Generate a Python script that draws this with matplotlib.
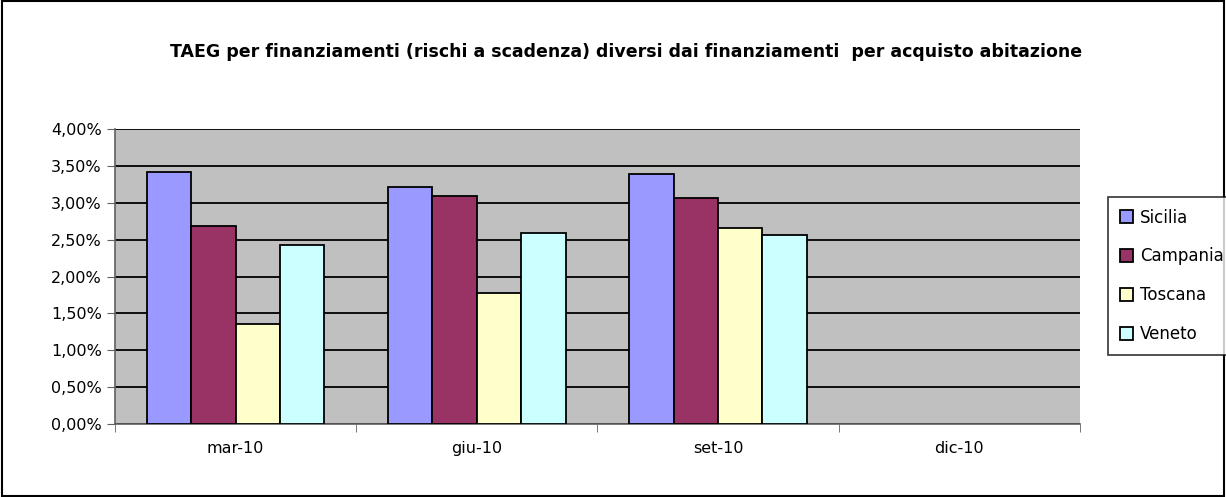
import numpy as np
import matplotlib.pyplot as plt
from matplotlib.patches import Rectangle
from matplotlib.ticker import FuncFormatter

categories = ["mar-10", "giu-10", "set-10", "dic-10"]
regions = ["Sicilia", "Campania", "Toscana", "Veneto"]
sicilia = [3.42, 3.22, 3.39, np.nan]
campania = [2.69, 3.10, 3.07, np.nan]
toscana = [1.35, 1.78, 2.66, np.nan]
veneto = [2.43, 2.59, 2.56, np.nan]
colors = ["#9999FF", "#993366", "#FFFFCC", "#CCFFFF"]

series = [sicilia, campania, toscana, veneto]

fig = plt.figure(figsize=(12.26, 4.97), dpi=100)
ax = fig.add_axes([0.0938, 0.147, 0.787, 0.593])
ax.set_facecolor("#C0C0C0")

x = np.arange(len(categories))
w = 0.184
for i, (vals, name, c) in enumerate(zip(series, regions, colors)):
    ax.bar(x + (i - 1.5) * w, vals, width=w, color=c, edgecolor="black",
           linewidth=1.3, label=name, zorder=3)

ax.set_xlim(-0.5, len(categories) - 0.5)
ax.set_ylim(0, 4.0)
ax.set_yticks(np.arange(0, 4.01, 0.5))
ax.yaxis.set_major_formatter(FuncFormatter(lambda v, p: f"{v:.2f}%".replace(".", ",")))
ax.yaxis.grid(True, color="black", linewidth=1.3, zorder=1)
ax.set_xticks(x)
ax.set_xticklabels(categories)
ax.set_xticks(np.arange(-0.5, len(categories), 1), minor=True)
ax.tick_params(axis="x", which="major", length=0, labelsize=11.5, pad=12)
ax.tick_params(axis="x", which="minor", length=6, color="#606060")
ax.tick_params(axis="y", length=6, color="#606060", labelsize=11.5)
for s in ["top", "right"]:
    ax.spines[s].set_visible(False)
for s in ["left", "bottom"]:
    ax.spines[s].set_color("#606060")
    ax.spines[s].set_linewidth(1.2)

fig.text(0.511, 0.895, "TAEG per finanziamenti (rischi a scadenza) diversi dai finanziamenti  per acquisto abitazione",
         ha="center", va="center", fontsize=12.5, fontweight="bold")

leg = fig.legend(loc="center left", bbox_to_anchor=(0.897, 0.445), frameon=True,
                 fontsize=12, handlelength=0.8, handleheight=0.8,
                 labelspacing=1.25, handletextpad=0.4, borderpad=0.7,
                 fancybox=False, edgecolor="black")
leg.get_frame().set_linewidth(1.2)

fig.patches.append(Rectangle((0.002, 0.003), 0.996, 0.994, transform=fig.transFigure,
                             fill=False, edgecolor="black", linewidth=1.5))

fig.savefig("out.png", dpi=100)
